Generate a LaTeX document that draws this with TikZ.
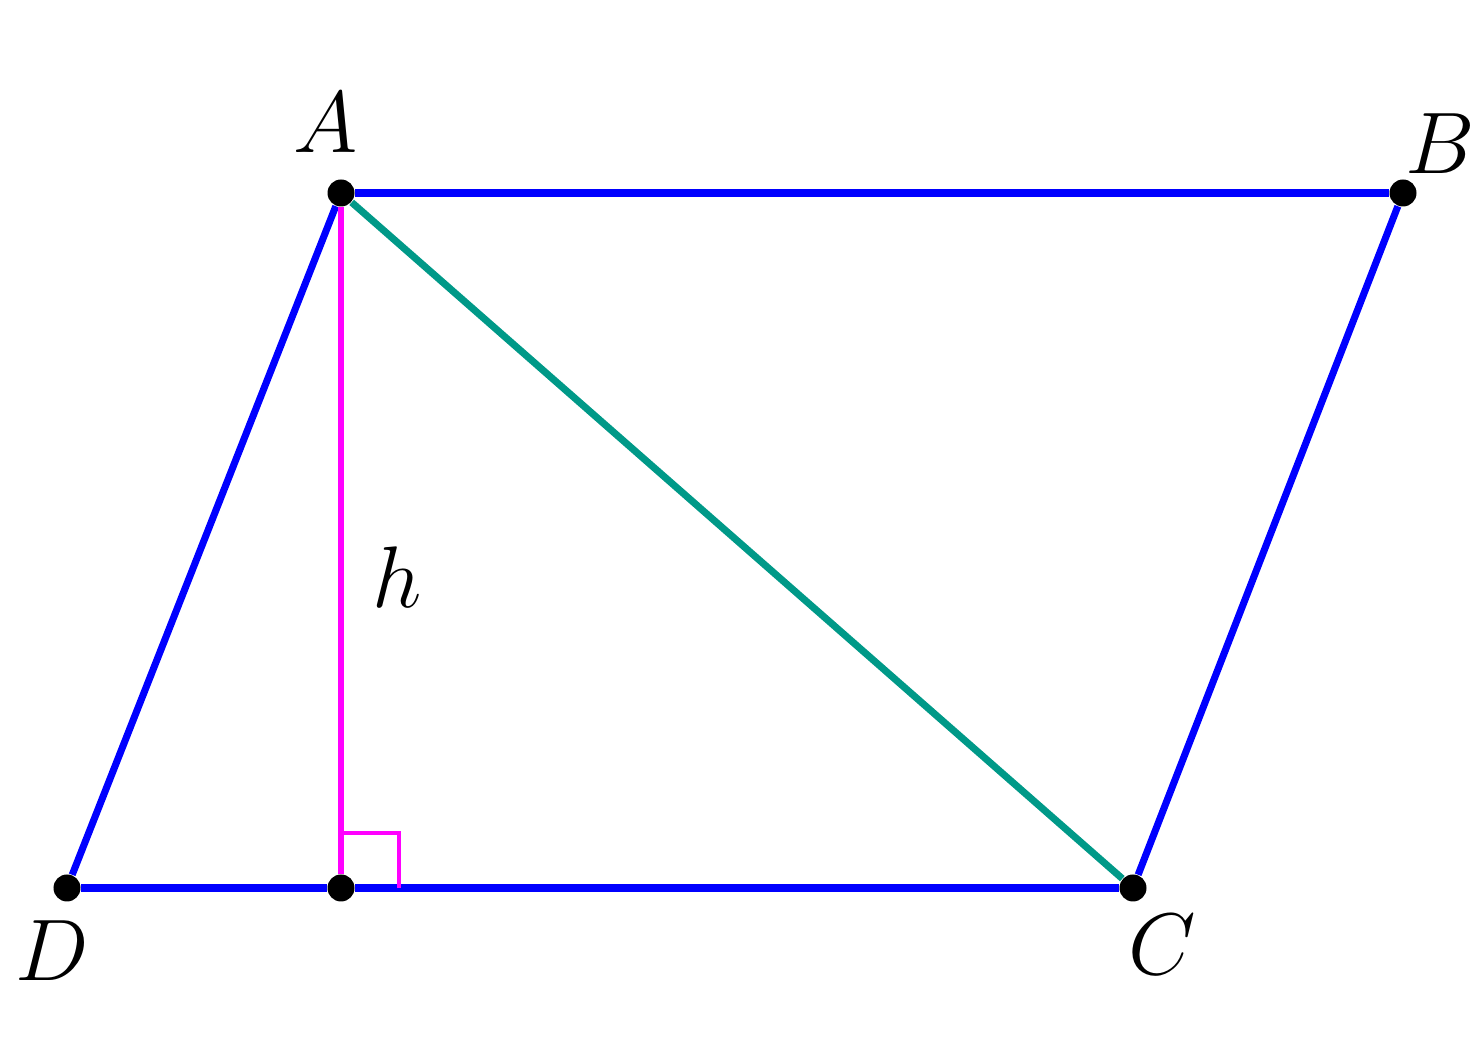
\documentclass[tikz,border=0pt]{standalone}
\usepackage{tikz}
\usetikzlibrary{arrows.meta}
\tikzset{>=latex, line width=1.0pt}
\definecolor{sideblue}{RGB}{0,0,255}
\definecolor{altmag}{RGB}{255,0,255}
\definecolor{diagteal}{RGB}{0,153,136}
\tikzset{
  pt/.style={circle,fill=black,inner sep=0pt,minimum size=0.27cm},
  lbl/.style={inner sep=0pt,font=\fontsize{25}{30}\selectfont},
  side/.style={draw=sideblue,line width=2pt},
  alt/.style={draw=altmag,line width=1.8pt},
  diag/.style={draw=diagteal,line width=2pt}
}
\begin{document}
\begin{tikzpicture}
  \useasboundingbox (0,0) rectangle (14.8,10.62);
  \def\ytop{8.69}
  \def\ybot{1.74}

  % Points
  \node[pt] (A) at (3.41,\ytop) {};
  \node[pt] (B) at (14.03,\ytop) {};
  \node[pt] (C) at (11.33,\ybot) {};
  \node[pt] (D) at (0.67,\ybot) {};
  \node[pt] (H) at (3.41,\ybot) {};

  % Labels
  \node[lbl,xshift=-0.15cm,yshift=0.70cm] (lA) at (A) {$A$};
  \node[lbl,xshift=0.37cm,yshift=0.49cm] (lB) at (B) {$B$};
  \node[lbl,xshift=0.29cm,yshift=-0.57cm] (lC) at (C) {$C$};
  \node[lbl,xshift=-0.15cm,yshift=-0.63cm] (lD) at (D) {$D$};
  \node[lbl] (lh) at (3.97,4.85) {$h$};

  % Parallelogram
  \draw[side] (A) -- (B);
  \draw[side] (B) -- (C);
  \draw[side] (C) -- (H);
  \draw[side] (H) -- (D);
  \draw[side] (D) -- (A);

  % Altitude and diagonal
  \draw[alt] (A) -- (H);
  \draw[altmag,line width=1.2pt] ([yshift=0.55cm]H.center) -| ([xshift=0.58cm]H.center);
  \draw[diag] (A) -- (C);
\end{tikzpicture}
\end{document}
